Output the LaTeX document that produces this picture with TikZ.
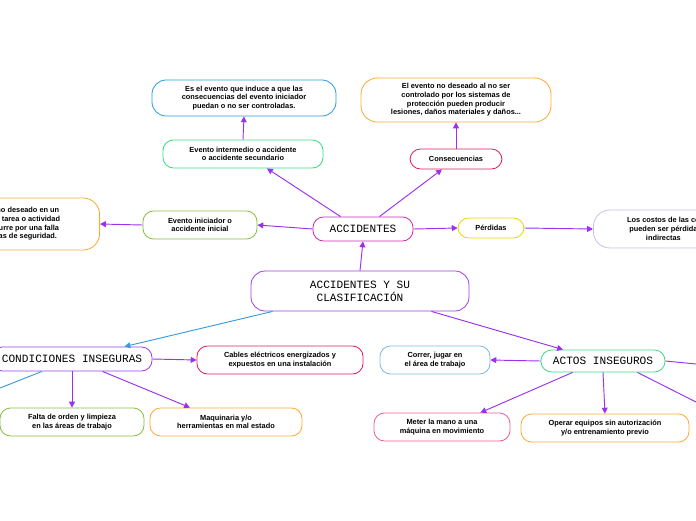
\documentclass[tikz,border=0pt]{standalone}
\usepackage{fontspec}
\setmainfont{Liberation Sans}
\newfontfamily\titlefont{Liberation Mono}
\usetikzlibrary{arrows.meta,calc}
\definecolor{linkpurple}{HTML}{9B30F0}
\definecolor{linkblue}{HTML}{3A9BDC}
\definecolor{cpurple}{HTML}{A040E0}
\definecolor{cmagenta}{HTML}{D02CB0}
\definecolor{cgreen}{HTML}{3DDC84}
\definecolor{cblue}{HTML}{2B9BE0}
\definecolor{ccrimson}{HTML}{E0205A}
\definecolor{corange}{HTML}{FFAA33}
\definecolor{cyellow}{HTML}{E8D800}
\definecolor{clavender}{HTML}{C8C0E8}
\definecolor{colive}{HTML}{88C040}
\definecolor{cpink}{HTML}{F06090}
\definecolor{csky}{HTML}{80B8E0}
\tikzset{
  box/.style={rectangle, rounded corners=9pt, draw, line width=0.7pt, fill=white, align=center, font=\fontsize{6.3}{7.4}\selectfont\bfseries, inner sep=1pt},
  title/.style={box, font=\titlefont\fontsize{9.5}{11}\selectfont},
  arrow/.style={draw=linkpurple, line width=0.8pt, -{Triangle[length=5pt,width=5pt]}}
}
\begin{document}
\begin{tikzpicture}[x=0.03cm,y=-0.03cm]
\useasboundingbox (0,0) rectangle (696,520);

% central nodes
\node (main) [title, draw=cpurple, minimum width=6.54cm, minimum height=1.2cm, rounded corners=12pt] at (360,291) {ACCIDENTES Y SU\\CLASIFICACIÓN};
\node (acc) [title, draw=cmagenta, minimum width=3cm, minimum height=0.72cm] at (363,229) {ACCIDENTES};
\node (cond) [title, draw=cpurple, minimum width=4.8cm, minimum height=0.72cm] at (72,359) {CONDICIONES INSEGURAS};
\node (actos) [title, draw=cgreen, minimum width=3.72cm, minimum height=0.66cm] at (603,361) {ACTOS INSEGUROS};

% accidentes branch
\node (inter) [box, draw=cgreen, minimum width=4.8cm, minimum height=0.84cm] at (243,154) {Evento intermedio o accidente\\o accidente secundario};
\node (interdesc) [box, draw=cblue, minimum width=5.52cm, minimum height=1.08cm, rounded corners=12pt] at (244,98) {Es el evento que induce a que las\\consecuencias del evento iniciador\\puedan o no ser controladas.};
\node (consec) [box, draw=ccrimson, minimum width=2.76cm, minimum height=0.6cm] at (456,159) {Consecuencias};
\node (consecdesc) [box, draw=corange, minimum width=5.7cm, minimum height=1.32cm, rounded corners=14pt] at (456,100) {El evento no deseado al no ser\\controlado por los sistemas de\\protección pueden producir\\lesiones, daños materiales y daños...};
\node (perd) [box, draw=cyellow, minimum width=1.98cm, minimum height=0.6cm] at (491,228) {Pérdidas};
\node (perddesc) [box, draw=clavender, minimum width=4.2cm, minimum height=1.14cm, rounded corners=14pt, anchor=west] at (593,229) {Los costos de las co\\pueden ser pérdida\\indirectas};
\node (inic) [box, draw=colive, minimum width=3.42cm, minimum height=0.84cm] at (200,225) {Evento iniciador o\\accidente inicial};
\node (inicdesc) [box, draw=corange, minimum width=4.5cm, minimum height=1.56cm, rounded corners=14pt, anchor=east] at (100,224) {o no deseado en un\\ma tarea o actividad\\ocurre por una falla\\mas de seguridad.};

% condiciones branch
\node (cables) [box, draw=ccrimson, minimum width=4.98cm, minimum height=0.84cm] at (280,360) {Cables eléctricos energizados y\\expuestos en una instalación};
\node (falta) [box, draw=colive, minimum width=4.32cm, minimum height=0.84cm] at (72,422) {Falta de orden y limpieza\\en las áreas de trabajo};
\node (maq) [box, draw=corange, minimum width=4.56cm, minimum height=0.84cm] at (226,422) {Maquinaria y/o\\herramientas en mal estado};

% actos branch
\node (correr) [box, draw=csky, minimum width=3.3cm, minimum height=0.84cm] at (435,360) {Correr, jugar en\\el área de trabajo};
\node (meter) [box, draw=cpink, minimum width=4.08cm, minimum height=0.84cm] at (442,427) {Meter la mano a una\\máquina en movimiento};
\node (operar) [box, draw=corange, minimum width=5.04cm, minimum height=0.84cm] at (605,428) {Operar equipos sin autorización\\y/o entrenamiento previo};

% off-page ends
\coordinate (offA) at (0,388);
\coordinate (offB) at (696,364);
\coordinate (offC) at (696,402);

% connectors
\draw [arrow] (main.north) -- (acc.south);
\draw [arrow, draw=linkblue] ($(main.south west)+(22,0)$) -- ($(cond.north east)+(-28,0)$);
\draw [arrow] ($(main.south east)+(-38,0)$) -- ($(actos.north)+(-40,0)$);
\draw [arrow] ($(acc.north west)+(28,0)$) -- ($(inter.south)+(24,0)$);
\draw [arrow] (inter.north) -- (interdesc.south);
\draw [arrow] ($(acc.north east)+(-34,0)$) -- ($(consec.south)+(-14,0)$);
\draw [arrow] (consec.north) -- (consecdesc.south);
\draw [arrow] (acc.east) -- (perd.west);
\draw [arrow] (perd.east) -- (perddesc.west);
\draw [arrow] (acc.west) -- (inic.east);
\draw [arrow] (inic.west) -- (inicdesc.east);
\draw [arrow] (cond.east) -- (cables.west);
\draw [arrow] (cond.south) -- (falta.north);
\draw [arrow] ($(cond.south east)+(-50,0)$) -- ($(maq.north)+(-36,0)$);
\draw [draw=linkblue, line width=0.8pt] ($(cond.south)+(-30,0)$) -- (offA);
\draw [arrow] (actos.west) -- (correr.east);
\draw [arrow] ($(actos.south west)+(32,0)$) -- ($(meter.north east)+(-30,0)$);
\draw [arrow] (actos.south) -- (operar.north);
\draw [draw=linkpurple, line width=0.8pt] (actos.east) -- (offB);
\draw [draw=linkpurple, line width=0.8pt] ($(actos.south east)+(-28,0)$) -- (offC);
\end{tikzpicture}
\end{document}
